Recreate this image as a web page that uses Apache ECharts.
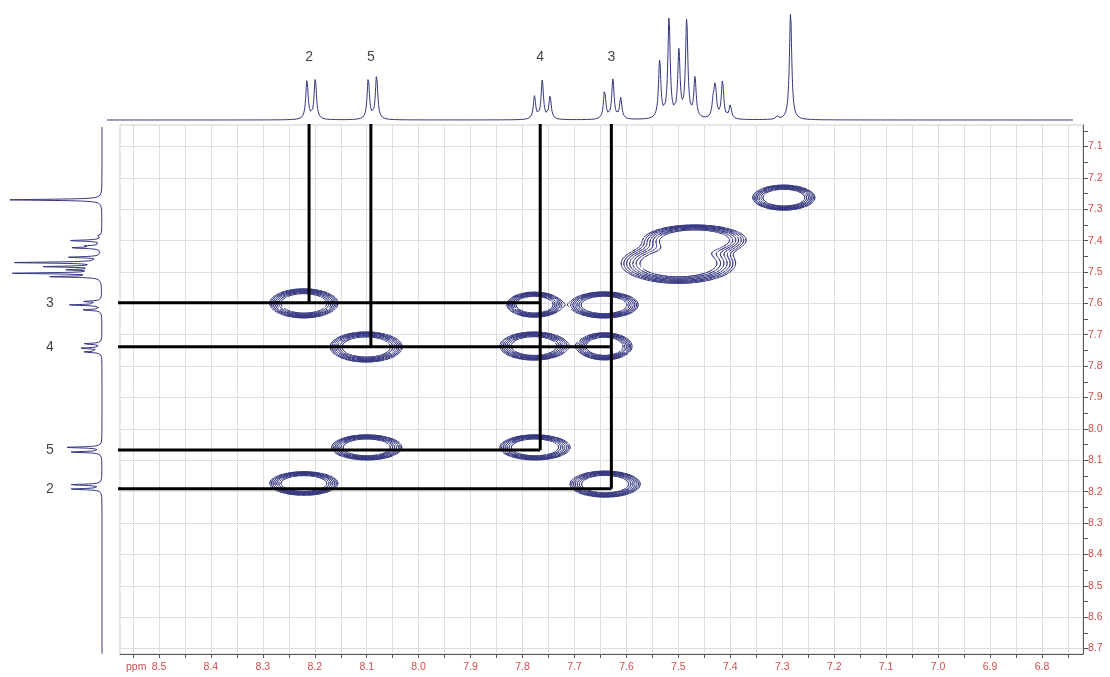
<!DOCTYPE html>
<html><head><meta charset="utf-8">
<script src="https://cdn.jsdelivr.net/npm/echarts@6/dist/echarts.min.js"></script>
<style>html,body{margin:0;padding:0;background:#fff}#c{width:1110px;height:677px}</style>
</head><body><div id="c"></div>
<script>
// ---------- axis ticks ----------
const xTickLabels = [8.5,8.4,8.3,8.2,8.1,8.0,7.9,7.8,7.7,7.6,7.5,7.4,7.3,7.2,7.1,7.0,6.9,6.8];
const xTickMarks = [8.55,8.5,8.45,8.4,8.35,8.3,8.25,8.2,8.15,8.1,8.05,8.0,7.95,7.9,7.85,7.8,7.75,7.7,7.65,7.6,7.55,7.5,7.45,7.4,7.35,7.3,7.25,7.2,7.15,7.1,7.05,7.0,6.95,6.9,6.85,6.8,6.75];
const yTickLabels = [7.1,7.2,7.3,7.4,7.5,7.6,7.7,7.8,7.9,8.0,8.1,8.2,8.3,8.4,8.5,8.6,8.7];
const yTickMarks = [7.05,7.1,7.15,7.2,7.25,7.3,7.35,7.4,7.45,7.5,7.55,7.6,7.65,7.7,7.75,7.8,7.85,7.9,7.95,8.0,8.05,8.1,8.15,8.2,8.25,8.3,8.35,8.4,8.45,8.5,8.55,8.6,8.65,8.7];
const xRange = [6.721, 8.575];
const yRange = [7.0315, 8.7175];
const topXRange = [6.7403, 8.600];

// ---------- 1D projections (peak lists) ----------
const topPeakPpm    = [8.215,8.199,8.097,8.081,7.777,7.762,7.747,7.642,7.626,7.611,7.536,7.518,7.499,7.484,7.468,7.433,7.429,7.415,7.400,7.310,7.284];
const topPeakHeight = [40,   41,   41,   44,   23,   39,   23,   29,   40,   21,   58,   100,  66,   98,   40,   15,   32,   38,   14,   3,    107];
const leftPeakPpm    = [7.270,7.385,7.400,7.417,7.423,7.453,7.470,7.483,7.493,7.504,7.515,7.594,7.605,7.621,7.729,7.743,7.755,8.059,8.074,8.178,8.192];
const leftPeakHeight = [92,   5,    32,   14,   30,   32,   85,   55,   30,   86,   49,   17,   32,   20,   19,   22,   19,   35,   32,   32,   32];
const leftSpan = [7.038, 8.717];

// ---------- 2D cross peaks (centre and outer contour half-widths, ppm) ----------
const crossX  = [8.221,8.101,7.777,7.643,7.778,7.642,8.100,7.776,8.221,7.641,7.297,7.468,7.500];
const crossY  = [7.600,7.739,7.604,7.605,7.736,7.737,8.059,8.059,8.174,8.176,7.263,7.398,7.473];
const crossRx = [0.0655,0.0693,0.0529,0.0655,0.0655,0.0529,0.0674,0.0674,0.0655,0.0674,0.0597,0.0982,0.1100];
const crossRy = [0.0462,0.0478,0.0398,0.0414,0.0446,0.0430,0.0398,0.0398,0.0373,0.0414,0.0398,0.0478,0.0630];
const contourLevels = [0.08,0.1008,0.127,0.16,0.2016,0.254,0.32];

// ---------- assignments ----------
const colNames = ['2','5','4','3'];
const colPpm   = [8.211,8.092,7.766,7.629];
const rowNames = ['3','4','5','2'];
const rowPpm   = [7.598,7.738,8.067,8.191];
const verticalTo   = ['3','4','5','2'];   // row reached by each column line
const horizontalTo = ['4','3','4','3'];   // column reached by each row line

const RED = '#d24c4c', NAVY = '#33367f', FONT = 'Liberation Sans, Arial, sans-serif';

function lorentz(ppms, hs, gamma, from, to, step, swap){
  const out = [];
  const n = Math.round(Math.abs(to-from)/step);
  for (let k=0;k<=n;k++){
    const v = from + (to-from)*k/n;
    let s = 0;
    for (let i=0;i<ppms.length;i++){ const d=(v-ppms[i])/gamma; s += hs[i]/(1+d*d); }
    out.push(swap ? [s, v] : [v, s]);
  }
  return out;
}
const topData  = lorentz(topPeakPpm, topPeakHeight, 0.0027, topXRange[1], topXRange[0], 0.0004, false);
const leftData = lorentz(leftPeakPpm, leftPeakHeight, 0.0021, leftSpan[0], leftSpan[1], 0.0004, true);

// ---------- contour field + marching squares ----------
const gx0=7.15, gx1=8.40, gy0=7.15, gy1=8.32, gdx=0.0018, gdy=0.0028;
const nx=Math.round((gx1-gx0)/gdx)+1, ny=Math.round((gy1-gy0)/gdy)+1;
const field = new Float32Array(nx*ny);
const K = 2.247;
for (let p=0;p<crossX.length;p++){
  const sx=crossRx[p]/K, sy=crossRy[p]/K;
  const i0=Math.max(0,Math.floor((crossX[p]-5*sx-gx0)/gdx)), i1=Math.min(nx-1,Math.ceil((crossX[p]+5*sx-gx0)/gdx));
  const j0=Math.max(0,Math.floor((crossY[p]-5*sy-gy0)/gdy)), j1=Math.min(ny-1,Math.ceil((crossY[p]+5*sy-gy0)/gdy));
  for (let j=j0;j<=j1;j++){
    const dy=(gy0+j*gdy-crossY[p])/sy;
    for (let i=i0;i<=i1;i++){
      const dx=(gx0+i*gdx-crossX[p])/sx;
      field[j*nx+i] += Math.exp(-0.5*(dx*dx+dy*dy));
    }
  }
}
const contourData = [];
const lmin = contourLevels[0];
function seg(p,q){ contourData.push(p,q,['-','-']); }
for (let j=0;j<ny-1;j++){
  const y0=gy0+j*gdy, y1=y0+gdy;
  for (let i=0;i<nx-1;i++){
    const a=field[j*nx+i], b=field[j*nx+i+1], c=field[(j+1)*nx+i+1], d=field[(j+1)*nx+i];
    const mx=Math.max(a,b,c,d);
    if (mx<lmin) continue;
    const mn=Math.min(a,b,c,d);
    const x0=gx0+i*gdx, x1=x0+gdx;
    for (const L of contourLevels){
      if (mx<L || mn>L) continue;
      const idx=(a>L?8:0)|(b>L?4:0)|(c>L?2:0)|(d>L?1:0);
      if (idx===0||idx===15) continue;
      const T=()=>[x0+(L-a)/(b-a)*gdx, y0];
      const R=()=>[x1, y0+(L-b)/(c-b)*gdy];
      const B=()=>[x0+(L-d)/(c-d)*gdx, y1];
      const Lf=()=>[x0, y0+(L-a)/(d-a)*gdy];
      switch(idx){
        case 1: case 14: seg(Lf(),B()); break;
        case 2: case 13: seg(B(),R()); break;
        case 3: case 12: seg(Lf(),R()); break;
        case 4: case 11: seg(T(),R()); break;
        case 6: case 9: seg(T(),B()); break;
        case 7: case 8: seg(T(),Lf()); break;
        case 5: seg(T(),R()); seg(Lf(),B()); break;
        case 10: seg(T(),Lf()); seg(B(),R()); break;
      }
    }
  }
}

// ---------- assignment lines ----------
const lineData = [];
const xStart = 8.579, yStart = 7.028;
colNames.forEach((n,i)=>{ const r=rowPpm[rowNames.indexOf(verticalTo[i])]; lineData.push([colPpm[i],yStart],[colPpm[i],r],['-','-']); });
rowNames.forEach((n,i)=>{ const c=colPpm[colNames.indexOf(horizontalTo[i])]; lineData.push([xStart,rowPpm[i]],[c,rowPpm[i]],['-','-']); });

const grid = [
  {left:120, top:125, width:963, height:529, show:true, borderColor:'#cfcfcf', borderWidth:1},
  {left:107, top:10, width:966, height:110},
  {left:0, top:125, width:102, height:529},
  {left:120, top:125, width:963, height:529},
  {left:120, top:10, width:963, height:110}
];
const chart = echarts.init(document.getElementById('c'), null, {renderer:'canvas'});
chart.setOption({
  animation:false,
  backgroundColor:'#ffffff',
  grid,
  xAxis:[
    {gridIndex:0, type:'value', inverse:true, min:xRange[0], max:xRange[1], position:'bottom',
      axisLine:{lineStyle:{color:'#555',width:1}},
      axisTick:{customValues:xTickMarks, length:4, lineStyle:{color:'#555'}},
      axisLabel:{customValues:xTickLabels, color:RED, fontSize:10.5, fontFamily:FONT, margin:8, formatter:v=>v.toFixed(1)},
      splitLine:{show:true, lineStyle:{color:'#dedede',width:1}}},
    {gridIndex:1, type:'value', inverse:true, min:topXRange[0], max:topXRange[1], show:false},
    {gridIndex:2, type:'value', inverse:true, min:0, max:102, show:false},
    {gridIndex:3, type:'value', inverse:true, min:xRange[0], max:xRange[1], show:false},
    {gridIndex:4, type:'value', inverse:true, min:xRange[0], max:xRange[1], show:false}
  ],
  yAxis:[
    {gridIndex:0, type:'value', inverse:true, min:yRange[0], max:yRange[1], position:'right',
      axisLine:{show:true, lineStyle:{color:'#555',width:1}},
      axisTick:{show:true, customValues:yTickMarks, length:5, lineStyle:{color:'#555'}},
      axisLabel:{customValues:yTickLabels, color:RED, fontSize:10.5, fontFamily:FONT, margin:5, formatter:v=>v.toFixed(1)},
      splitLine:{show:false}},
    {gridIndex:1, type:'value', min:0, max:110, show:false},
    {gridIndex:2, type:'value', inverse:true, min:yRange[0], max:yRange[1], show:false},
    {gridIndex:3, type:'value', inverse:true, min:yRange[0], max:yRange[1], position:'left',
      axisLine:{show:false}, axisTick:{show:false, customValues:yTickLabels}, axisLabel:{show:false},
      splitLine:{show:true, lineStyle:{color:'#dedede',width:1}}},
    {gridIndex:4, type:'value', min:0, max:110, show:false}
  ],
  series:[
    {type:'line', xAxisIndex:0, yAxisIndex:0, data:contourData, symbol:'none', showSymbol:false, connectNulls:false,
      lineStyle:{color:NAVY, width:0.9, cap:'round'}, silent:true, z:3},
    {type:'line', xAxisIndex:0, yAxisIndex:0, data:lineData, symbol:'none', showSymbol:false, connectNulls:false, clip:false,
      lineStyle:{color:'#000', width:3}, silent:true, z:5},
    {type:'line', xAxisIndex:1, yAxisIndex:1, data:topData, symbol:'none', showSymbol:false, clip:false,
      lineStyle:{color:NAVY, width:1}, silent:true, z:4},
    {type:'line', xAxisIndex:2, yAxisIndex:2, data:leftData, symbol:'none', showSymbol:false, clip:false,
      lineStyle:{color:NAVY, width:1}, silent:true, z:4},
    {type:'scatter', xAxisIndex:4, yAxisIndex:4, symbolSize:1, itemStyle:{color:'rgba(0,0,0,0)'},
      data:colNames.map((n,i)=>({value:[colPpm[i],63], name:n})),
      label:{show:true, position:'inside', formatter:p=>p.name, color:'#111', fontSize:14, fontFamily:FONT}, silent:true, z:6},
    {type:'scatter', xAxisIndex:2, yAxisIndex:2, symbolSize:1, itemStyle:{color:'rgba(0,0,0,0)'},
      data:rowNames.map((n,i)=>({value:[52,rowPpm[i]], name:n})),
      label:{show:true, position:'inside', formatter:p=>p.name, color:'#111', fontSize:14, fontFamily:FONT}, silent:true, z:6}
  ],
  graphic:[{type:'text', left:126, top:662, style:{text:'ppm', fill:RED, font:'10.5px '+FONT}}]
});
</script></body></html>
